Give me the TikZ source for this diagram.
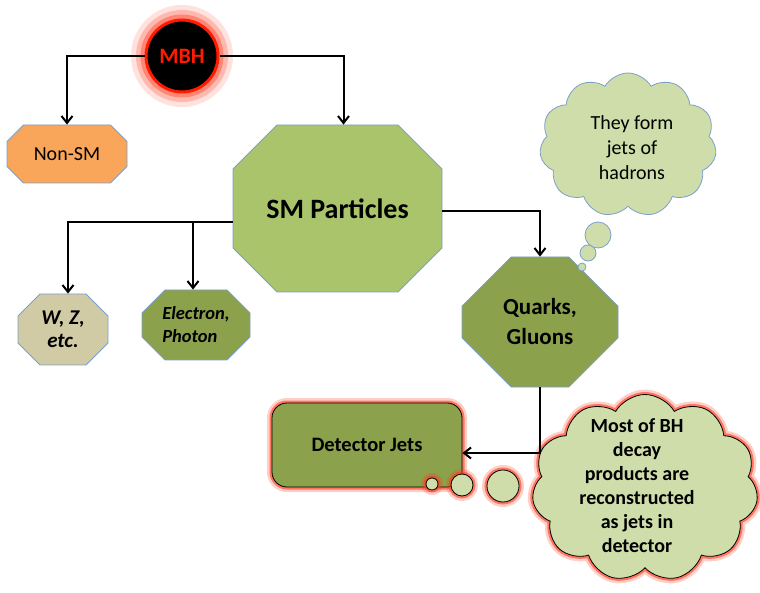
\documentclass[tikz,border=0pt]{standalone}
\usepackage{fontspec}
\setmainfont{Carlito}
\usetikzlibrary{arrows.meta,shapes.misc,shapes.symbols}
\definecolor{octoBorder}{HTML}{7DA0CB}
\definecolor{orangeFill}{HTML}{F9A65A}
\definecolor{smGreen}{HTML}{A9C46B}
\definecolor{oliveGreen}{HTML}{8BA14C}
\definecolor{tanFill}{HTML}{D0CAA5}
\definecolor{cloudFill}{HTML}{CEDDAA}
\definecolor{glowRed}{HTML}{FF3B1F}
\definecolor{mbhRed}{HTML}{FF1A00}
\newcommand{\txtsize}[2]{\fontsize{#1pt}{#2pt}\selectfont}

\begin{document}
\begin{tikzpicture}[
  x=1pt, y=-1pt,
  >={Straight Barb[length=7pt,width=11pt]},
  octo/.style={
    chamfered rectangle,
    draw=octoBorder,
    line width=0.8pt,
    inner sep=0pt,
    align=center,
    text=black
  },
  flow/.style={->, draw=black, line width=2pt},
  glowsoft/.style={
    preaction={draw=glowRed, draw opacity=0.25, line width=10pt},
    preaction={draw=glowRed, draw opacity=0.6, line width=5pt}
  },
  glowbig/.style={
    preaction={draw=glowRed, draw opacity=0.15, line width=30pt},
    preaction={draw=glowRed, draw opacity=0.25, line width=20pt},
    preaction={draw=glowRed, draw opacity=0.4, line width=11pt}
  },
  bubble/.style={circle, draw=black, fill=cloudFill, line width=0.8pt, inner sep=0pt},
  thought/.style={circle, draw=octoBorder, fill=cloudFill, line width=0.8pt, inner sep=0pt},
  puff/.style={cloud, cloud puffs=11, cloud puff arc=120, cloud ignores aspect, fill=cloudFill, line width=0.8pt}
]
\useasboundingbox (0,0) rectangle (760,593);

% black hole
\node[circle, fill=black, draw=mbhRed, line width=3pt, minimum size=72pt, inner sep=0pt,
  text=mbhRed, font=\bfseries\txtsize{22}{26}, glowbig] (mbh) at (182,56) {MBH};

% octagons
\node[octo, fill=orangeFill, minimum width=120pt, minimum height=58pt,
  chamfered rectangle xsep=13pt, chamfered rectangle ysep=10pt,
  font=\txtsize{20}{24}] (nonsm) at (67,154) {Non-SM};
\node[octo, fill=smGreen, minimum width=209pt, minimum height=167pt,
  chamfered rectangle xsep=35pt, chamfered rectangle ysep=34pt,
  font=\bfseries\txtsize{28}{32}] (sm) at (337.5,208.5) {SM Particles};
\node[octo, fill=tanFill, minimum width=90pt, minimum height=71pt,
  chamfered rectangle xsep=10pt, chamfered rectangle ysep=12pt,
  font=\bfseries\itshape\txtsize{21}{23}] (wz) at (63,329.5) {W, Z,\\etc.};
\node[octo, fill=oliveGreen, minimum width=108pt, minimum height=70pt,
  chamfered rectangle xsep=11pt, chamfered rectangle ysep=12pt, align=left,
  font=\bfseries\itshape\txtsize{18.5}{23}] (ep) at (196,325) {Electron,\\Photon};
\node[octo, fill=oliveGreen, minimum width=156pt, minimum height=130pt,
  chamfered rectangle xsep=26pt, chamfered rectangle ysep=26pt,
  font=\bfseries\txtsize{23}{30}] (qg) at (540,322) {Quarks,\\Gluons};

% detector jets
\node[rectangle, rounded corners=15pt, fill=oliveGreen, draw=black, line width=0.8pt,
  minimum width=190pt, minimum height=84pt, glowsoft,
  font=\bfseries\txtsize{20.5}{24}] (dj) at (367,445) {Detector Jets};

% thought bubbles
\node[bubble, glowsoft, minimum size=12pt] (djb1) at (432,484) {};
\node[bubble, glowsoft, minimum size=22pt] (djb2) at (462,485) {};
\node[bubble, glowsoft, minimum size=32pt] (djb3) at (503,486) {};
\node[puff, draw=black, glowsoft, minimum width=226pt, minimum height=187pt] (bhcloud) at (645,488) {};
\node[align=center, font=\bfseries\txtsize{20}{24}] (bhtext) at (637,486)
  {Most of BH\\decay\\products are\\reconstructed\\as jets in\\detector};

\node[thought, minimum size=8pt] (qgb1) at (582,267) {};
\node[thought, minimum size=16pt] (qgb2) at (588,253) {};
\node[thought, minimum size=26pt] (qgb3) at (598,235) {};
\node[puff, draw=octoBorder, minimum width=177pt, minimum height=144pt] (jetcloud) at (628,145) {};
\node[align=center, font=\txtsize{20}{25}] (jettext) at (632,148) {They form\\jets of\\hadrons};

% connectors
\draw[flow] (mbh.west) -| (nonsm.north);
\draw[flow] (mbh.east) -| ([xshift=6pt]sm.north);
\draw[flow] ([yshift=-14pt]sm.west) -| ([xshift=5pt]wz.north);
\draw[flow] ([yshift=-14pt]sm.west) -| ([xshift=-3pt]ep.north);
\draw[flow] ([yshift=-3pt]sm.east) -| (qg.north);
\draw[flow] (qg.south) |- ([yshift=-8pt]dj.east);

\end{tikzpicture}
\end{document}
